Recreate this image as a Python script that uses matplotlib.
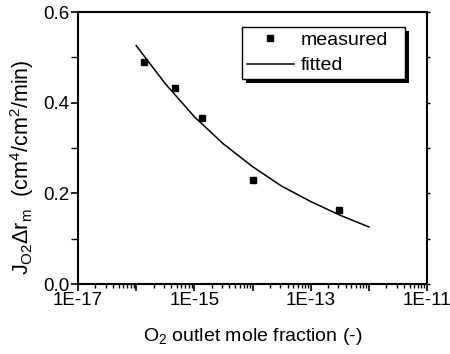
import numpy as np
import matplotlib
matplotlib.use("Agg")
import matplotlib.pyplot as plt
from matplotlib.patches import Rectangle
from matplotlib.ticker import FixedLocator, FuncFormatter, LogLocator, NullFormatter, MultipleLocator

plt.rcParams['font.family'] = ['Liberation Sans', 'DejaVu Sans']
plt.rcParams['mathtext.fontset'] = 'custom'
plt.rcParams['mathtext.rm'] = 'Liberation Sans'
plt.rcParams['mathtext.it'] = 'Liberation Sans'

# measured points
measured_x = [1.37e-16, 4.6e-16, 1.37e-15, 1.0e-14, 3.1e-13]
measured_y = [0.489, 0.432, 0.367, 0.229, 0.164]

# fitted curve
fitted_x = [1e-16, 3.16e-16, 1e-15, 3.16e-15, 1e-14, 3.16e-14, 1e-13, 3.16e-13, 1e-12]
fitted_y = [0.526, 0.442, 0.369, 0.309, 0.259, 0.216, 0.182, 0.152, 0.126]

x_tick_labels = ["1E-17", "1E-15", "1E-13", "1E-11"]

fig = plt.figure(figsize=(4.5, 3.54), dpi=100)
ax = fig.add_axes([0.1733, 0.1977, 0.949 - 0.1733, 0.966 - 0.1977])

ax.plot(fitted_x, fitted_y, color='black', lw=1.1, label='fitted', zorder=2)
ax.plot(measured_x, measured_y, ls='none', marker='s', ms=4.2, color='black',
        label='measured', zorder=3)

ax.set_xscale('log')
ax.set_xlim(1e-17, 1e-11)
ax.set_ylim(0.0, 0.6)

ax.xaxis.set_major_locator(FixedLocator([10.0 ** e for e in range(-17, -10)]))
lab_map = {-17: x_tick_labels[0], -15: x_tick_labels[1], -13: x_tick_labels[2], -11: x_tick_labels[3]}
ax.xaxis.set_major_formatter(FuncFormatter(
    lambda v, p: lab_map.get(int(round(np.log10(v))), "")))
ax.xaxis.set_minor_locator(LogLocator(base=10, subs=np.arange(2, 10), numticks=50))
ax.xaxis.set_minor_formatter(NullFormatter())

ax.yaxis.set_major_locator(MultipleLocator(0.2))
ax.yaxis.set_minor_locator(MultipleLocator(0.1))
ax.yaxis.set_major_formatter(FuncFormatter(lambda v, p: f"{v:.1f}"))

for s in ax.spines.values():
    s.set_linewidth(1.5)

ax.tick_params(axis='both', which='major', direction='out', length=5, width=1.2,
               labelsize=13.5, pad=1)
ax.tick_params(axis='both', which='minor', direction='out', length=3, width=1.0)
ax.tick_params(axis='y', which='minor', length=5)

# short ticks on the right-hand spine
rax = ax.twinx()
rax.set_ylim(ax.get_ylim())
rax.yaxis.set_major_locator(MultipleLocator(0.1))
rax.tick_params(axis='y', which='major', direction='out', length=2, width=1.0,
                labelright=False)
for s in rax.spines.values():
    s.set_visible(False)
rax.patch.set_visible(False)

ax.set_xlabel(r'O$_\mathregular{2}$ outlet mole fraction (-)', fontsize=14, labelpad=12)
ax.set_ylabel(r'$\mathregular{J_{O2}\Delta r_{m}\ \ (cm^{4}/cm^{2}/min)}$', fontsize=15.5)
ax.yaxis.set_label_coords(-0.12, 0.43)

# legend box with a solid drop shadow (axes-fraction coordinates)
box_x0, box_y0, box_w, box_h = 0.47, 0.754, 0.467, 0.191
shadow_dx, shadow_dy = 0.0125, 0.016
rax.add_patch(Rectangle((box_x0 + shadow_dx, box_y0 - shadow_dy), box_w, box_h,
                        transform=rax.transAxes, facecolor='black',
                        edgecolor='none', zorder=4, clip_on=False))
rax.add_patch(Rectangle((box_x0, box_y0), box_w, box_h,
                        transform=rax.transAxes, facecolor='white',
                        edgecolor='black', linewidth=1.0, zorder=4.5, clip_on=False))

handles, labels = ax.get_legend_handles_labels()
leg = rax.legend(handles[::-1], labels[::-1], loc='center left',
                 bbox_to_anchor=(box_x0, box_y0, box_w, box_h),
                 bbox_transform=rax.transAxes, borderaxespad=0,
                 fontsize=14, frameon=False,
                 handlelength=2.4, handletextpad=0.35, borderpad=0.25,
                 labelspacing=0.4, numpoints=1)
leg.set_zorder(6)

fig.savefig('out.png', dpi=100)
